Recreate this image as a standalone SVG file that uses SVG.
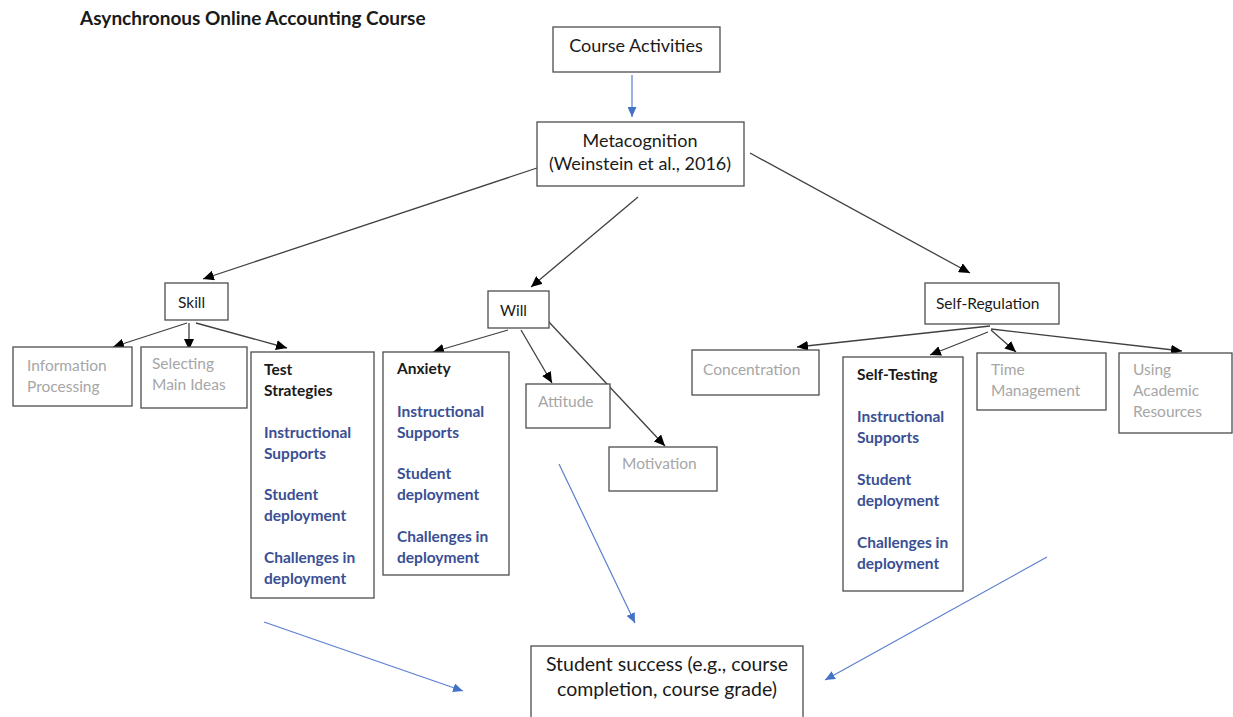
<svg xmlns="http://www.w3.org/2000/svg" width="1233" height="717" viewBox="0 0 1233 717">
  <style>
    .box { fill: #ffffff; stroke: #4d4d4d; stroke-width: 1.3; }
    .t { font-family: Lato, "Liberation Sans", sans-serif; font-size: 15.5px; fill: #1a1a1a; }
    .lg { font-size: 18px; }
    .xl { font-size: 19.5px; }
    .ttl { font-size: 19px; }
    .b { font-weight: bold; }
    .grey { fill: #a6a6a6; }
    .blue { fill: #3a4f94; font-weight: bold; }
    .mid { text-anchor: middle; }
    .link { stroke: #404040; stroke-width: 1.3; fill: none; marker-end: url(#headDark); }
    .flow { stroke: #5b7fd1; stroke-width: 1.2; fill: none; marker-end: url(#headBlue); }
  </style>
  <defs>
    <marker id="headDark" markerUnits="userSpaceOnUse" markerWidth="12" markerHeight="10" refX="11" refY="5" orient="auto">
      <path d="M0,0 L11,5 L0,10 z" fill="#000000"/>
    </marker>
    <marker id="headBlue" markerUnits="userSpaceOnUse" markerWidth="11" markerHeight="9" refX="10" refY="4.5" orient="auto">
      <path d="M0,0 L10,4.5 L0,9 z" fill="#4472c4"/>
    </marker>
  </defs>

  <rect width="1233" height="717" fill="#ffffff"/>

  <text class="t ttl b" x="80" y="25">Asynchronous Online Accounting Course</text>

  <!-- connectors -->
  <g id="connectors">
    <line class="flow" x1="632" y1="75" x2="632" y2="117"/>
    <line class="link" x1="537" y1="168" x2="203" y2="279"/>
    <line class="link" x1="638" y1="197" x2="531" y2="287"/>
    <line class="link" x1="750" y1="153" x2="970" y2="273"/>

    <line class="link" x1="187" y1="323" x2="113" y2="347"/>
    <line class="link" x1="189" y1="323" x2="189" y2="350"/>
    <line class="link" x1="196" y1="323" x2="287" y2="348"/>

    <line class="link" x1="508" y1="330" x2="433" y2="352"/>
    <line class="link" x1="521" y1="330" x2="552" y2="383"/>
    <line class="link" x1="548" y1="321" x2="665" y2="446"/>

    <line class="link" x1="990" y1="326" x2="797" y2="347"/>
    <line class="link" x1="988" y1="332" x2="930" y2="355"/>
    <line class="link" x1="991" y1="330" x2="1016" y2="352"/>
    <line class="link" x1="991" y1="329" x2="1182" y2="351"/>

    <line class="flow" x1="264" y1="622" x2="463" y2="691"/>
    <line class="flow" x1="559" y1="464" x2="635" y2="623"/>
    <line class="flow" x1="1047" y1="557" x2="825" y2="680"/>
  </g>

  <g id="course-activities">
    <rect class="box" x="553" y="27" width="167" height="45"/>
    <text class="t lg mid" x="636" y="52">Course Activities</text>
  </g>

  <g id="metacognition">
    <rect class="box" x="537" y="122" width="207" height="64"/>
    <text class="t lg mid" x="640" y="147">Metacognition</text>
    <text class="t lg mid" x="640" y="170">(Weinstein et al., 2016)</text>
  </g>

  <g id="skill">
    <rect class="box" x="165" y="283" width="63" height="37"/>
    <text class="t" x="178" y="308">Skill</text>
  </g>

  <g id="will">
    <rect class="box" x="488" y="291" width="61" height="37"/>
    <text class="t" x="500" y="316">Will</text>
  </g>

  <g id="self-regulation">
    <rect class="box" x="925" y="283" width="134" height="41"/>
    <text class="t" x="936" y="309">Self-Regulation</text>
  </g>

  <g id="information-processing">
    <rect class="box" x="13" y="347" width="119" height="59"/>
    <text class="t grey" x="27" y="371">Information</text>
    <text class="t grey" x="27" y="392">Processing</text>
  </g>

  <g id="selecting-main-ideas">
    <rect class="box" x="141" y="347" width="106" height="61"/>
    <text class="t grey" x="152" y="369">Selecting</text>
    <text class="t grey" x="152" y="390">Main Ideas</text>
  </g>

  <g id="test-strategies">
    <rect class="box" x="251" y="352" width="123" height="246"/>
    <text class="t b" x="264" y="375">Test</text>
    <text class="t b" x="264" y="396">Strategies</text>
    <text class="t blue" x="264" y="438">Instructional</text>
    <text class="t blue" x="264" y="459">Supports</text>
    <text class="t blue" x="264" y="500">Student</text>
    <text class="t blue" x="264" y="521">deployment</text>
    <text class="t blue" x="264" y="563">Challenges in</text>
    <text class="t blue" x="264" y="584">deployment</text>
  </g>

  <g id="anxiety">
    <rect class="box" x="383" y="352" width="126" height="223"/>
    <text class="t b" x="397" y="374">Anxiety</text>
    <text class="t blue" x="397" y="417">Instructional</text>
    <text class="t blue" x="397" y="438">Supports</text>
    <text class="t blue" x="397" y="479">Student</text>
    <text class="t blue" x="397" y="500">deployment</text>
    <text class="t blue" x="397" y="542">Challenges in</text>
    <text class="t blue" x="397" y="563">deployment</text>
  </g>

  <g id="attitude">
    <rect class="box" x="526" y="384" width="84" height="44"/>
    <text class="t grey" x="538" y="407">Attitude</text>
  </g>

  <g id="motivation">
    <rect class="box" x="609" y="447" width="108" height="44"/>
    <text class="t grey" x="622" y="469">Motivation</text>
  </g>

  <g id="concentration">
    <rect class="box" x="692" y="350" width="127" height="45"/>
    <text class="t grey" x="703" y="375">Concentration</text>
  </g>

  <g id="self-testing">
    <rect class="box" x="843" y="357" width="120" height="234"/>
    <text class="t b" x="857" y="380">Self-Testing</text>
    <text class="t blue" x="857" y="422">Instructional</text>
    <text class="t blue" x="857" y="443">Supports</text>
    <text class="t blue" x="857" y="485">Student</text>
    <text class="t blue" x="857" y="506">deployment</text>
    <text class="t blue" x="857" y="548">Challenges in</text>
    <text class="t blue" x="857" y="569">deployment</text>
  </g>

  <g id="time-management">
    <rect class="box" x="977" y="353" width="129" height="57"/>
    <text class="t grey" x="991" y="375">Time</text>
    <text class="t grey" x="991" y="396">Management</text>
  </g>

  <g id="using-academic-resources">
    <rect class="box" x="1119" y="353" width="113" height="80"/>
    <text class="t grey" x="1133" y="375">Using</text>
    <text class="t grey" x="1133" y="396">Academic</text>
    <text class="t grey" x="1133" y="417">Resources</text>
  </g>

  <g id="student-success">
    <rect class="box" x="531" y="646" width="272" height="80"/>
    <text class="t xl mid" x="667" y="671">Student success (e.g., course</text>
    <text class="t xl mid" x="667" y="696">completion, course grade)</text>
  </g>
</svg>
